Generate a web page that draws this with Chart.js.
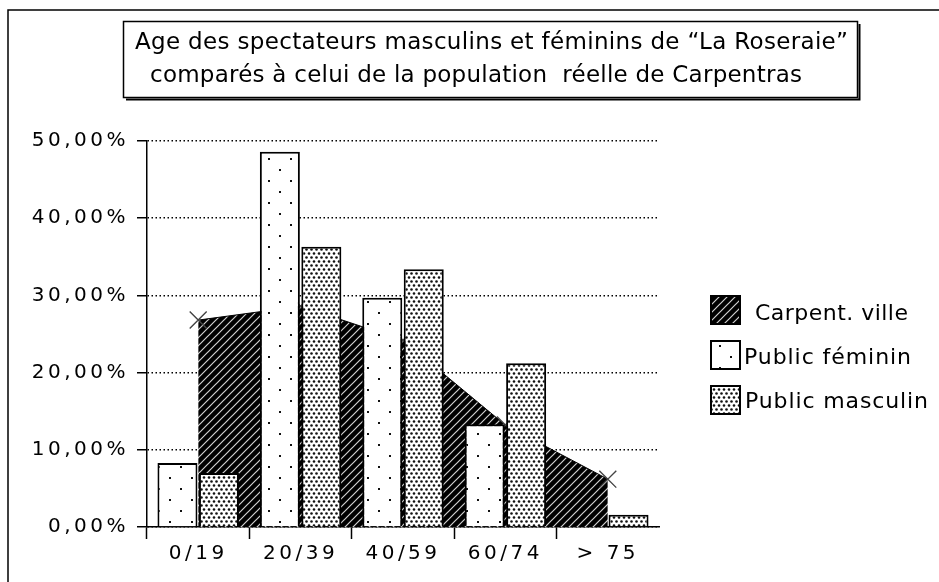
<!DOCTYPE html>
<html><head><meta charset="utf-8">
<script src="https://cdn.jsdelivr.net/npm/chart.js@4"></script>
<style>html,body{margin:0;padding:0;background:#fff;}canvas{display:block;}</style>
</head><body>
<canvas id="c" width="939" height="582"></canvas>
<script>
const categories = ['0/19', '20/39', '40/59', '60/74', '> 75'];
const carpentVille = [26.8, 28.6, 24.2, 13.2, 6.2];
const publicFeminin = [8.3, 48.6, 29.7, 13.3, 0];
const publicMasculin = [7.0, 36.3, 33.4, 21.2, 1.6];
const yTickLabels = ['0,00%', '10,00%', '20,00%', '30,00%', '40,00%', '50,00%'];
const seriesNames = ['Carpent. ville', 'Public féminin', 'Public masculin'];
const titleLines = ['Age des spectateurs masculins et féminins de “La Roseraie”', 'comparés à celui de la population  réelle de Carpentras'];

const canvas = document.getElementById('c');
const ctx = canvas.getContext('2d');

function makePattern(w, h, draw) {
  const c = document.createElement('canvas');
  c.width = w; c.height = h;
  const x = c.getContext('2d');
  draw(x, w, h);
  return ctx.createPattern(c, 'repeat');
}
const hatch = makePattern(8, 8, (x, w, h) => {
  x.fillStyle = '#000'; x.fillRect(0, 0, w, h);
  x.strokeStyle = '#d0d0d0'; x.lineWidth = 1.2;
  x.beginPath();
  x.moveTo(-2, 10); x.lineTo(10, -2);
  x.moveTo(-2, 2); x.lineTo(2, -2);
  x.moveTo(6, 10); x.lineTo(10, 6);
  x.stroke();
});
const dotsSparse = makePattern(22, 22, (x, w, h) => {
  x.fillStyle = '#fff'; x.fillRect(0, 0, w, h);
  x.fillStyle = '#111';
  x.fillRect(4, 4, 2, 2);
  x.fillRect(15, 15, 2, 2);
});
const dotsDense = makePattern(10, 8, (x, w, h) => {
  x.fillStyle = '#fff'; x.fillRect(0, 0, w, h);
  x.fillStyle = '#111';
  [[1.5, 1.5], [6.5, 1.5], [4, 5.5], [9, 5.5], [-1, 5.5], [1.5, 9.5], [6.5, 9.5]].forEach(p => {
    x.beginPath(); x.arc(p[0], p[1], 1.3, 0, Math.PI * 2); x.fill();
  });
});

const TICK_FONT = { family: 'DejaVu Sans', size: 20 };
const TICK_SPACING = '3.5px';

function drawFit(c, text, x, base, target, font) {
  c.save();
  c.font = font;
  c.letterSpacing = '0px';
  const w = c.measureText(text).width;
  const n = Array.from(text).length;
  const ls = (target - w) / Math.max(1, n - 1);
  c.letterSpacing = ls.toFixed(2) + 'px';
  c.fillStyle = '#000';
  c.textAlign = 'left';
  c.textBaseline = 'alphabetic';
  c.fillText(text, x, base);
  c.restore();
}

const decorPlugin = {
  id: 'decor',
  beforeLayout(chart) { chart.ctx.letterSpacing = TICK_SPACING; },
  beforeDraw(chart) {
    const c = chart.ctx;
    c.letterSpacing = TICK_SPACING;
    c.save();
    c.fillStyle = '#fff';
    c.fillRect(0, 0, chart.width, chart.height);
    c.strokeStyle = '#000';
    c.lineWidth = 1.5;
    c.beginPath();
    c.moveTo(8, chart.height); c.lineTo(8, 10); c.lineTo(chart.width, 10);
    c.stroke();
    c.restore();
  },
  afterDraw(chart) {
    const c = chart.ctx;
    c.save();
    c.letterSpacing = '0px';
    c.strokeStyle = '#000';
    c.lineWidth = 1.5;
    c.strokeRect(123.5, 21.5, 734, 76);
    c.lineWidth = 2;
    c.beginPath();
    c.moveTo(126, 99.5); c.lineTo(859.5, 99.5); c.lineTo(859.5, 24);
    c.stroke();
    drawFit(c, titleLines[0], 135, 49, 713, '23px "DejaVu Sans"');
    drawFit(c, titleLines[1], 150, 82, 652, '23px "DejaVu Sans"');
    const fills = [hatch, dotsSparse, dotsDense];
    const boxes = [[710, 295], [710, 340], [710, 385]];
    const textX = [755, 744, 745];
    const bases = [320, 364, 408];
    const widths = [153, 167, 183];
    for (let i = 0; i < 3; i++) {
      const [bx, by] = boxes[i];
      c.fillStyle = fills[i];
      c.fillRect(bx, by, 31, 30);
      c.strokeStyle = '#000';
      c.lineWidth = 2;
      c.strokeRect(bx + 1, by + 1, 29, 28);
      drawFit(c, seriesNames[i], textX[i], bases[i], widths[i], '22px "DejaVu Sans"');
    }
    c.restore();
  }
};

new Chart(ctx, {
  type: 'bar',
  data: {
    labels: categories,
    datasets: [
      {
        type: 'line', label: seriesNames[0], data: carpentVille, order: 2,
        fill: 'origin', backgroundColor: hatch, borderColor: '#000', borderWidth: 1,
        tension: 0, pointStyle: 'crossRot', pointRadius: 12, pointBorderColor: '#444',
        pointBorderWidth: 1.4, pointBackgroundColor: 'rgba(0,0,0,0)'
      },
      {
        label: seriesNames[1], data: publicFeminin, order: 1,
        backgroundColor: dotsSparse, borderColor: '#000',
        borderWidth: c => (c.raw === 0 ? 0 : 2), borderSkipped: 'bottom',
        barPercentage: 0.965, categoryPercentage: 0.81
      },
      {
        label: seriesNames[2], data: publicMasculin, order: 1,
        backgroundColor: dotsDense, borderColor: '#000',
        borderWidth: c => (c.raw === 0 ? 0 : 2), borderSkipped: 'bottom',
        barPercentage: 0.965, categoryPercentage: 0.81
      }
    ]
  },
  options: {
    responsive: false, animation: false, devicePixelRatio: 1, events: [],
    layout: { padding: { left: 0, top: 141, right: 280, bottom: 0 } },
    plugins: { legend: { display: false }, title: { display: false }, tooltip: { enabled: false } },
    scales: {
      x: {
        offset: true,
        grid: {
          offset: true, drawOnChartArea: false, tickLength: 12, tickWidth: 1.5,
          tickColor: c => (c.index === undefined ? 'rgba(0,0,0,0)' : '#000')
        },
        border: { color: '#000', width: 1.5 },
        ticks: { color: '#000', font: TICK_FONT, padding: 3, maxRotation: 0, autoSkip: false },
        afterFit: s => { s.height = 55; }
      },
      y: {
        min: 0, max: 50,
        ticks: { stepSize: 10, color: '#000', font: TICK_FONT, padding: 8, callback: (v, i) => yTickLabels[i] },
        grid: { color: '#000', lineWidth: 1.5, tickLength: 10, tickColor: '#000', tickWidth: 1.5, tickBorderDash: [] },
        border: { color: '#000', width: 1.5, dash: [1.5, 2.5] },
        afterFit: s => { s.width = 147; }
      }
    }
  },
  plugins: [decorPlugin]
});
</script>
</body></html>
